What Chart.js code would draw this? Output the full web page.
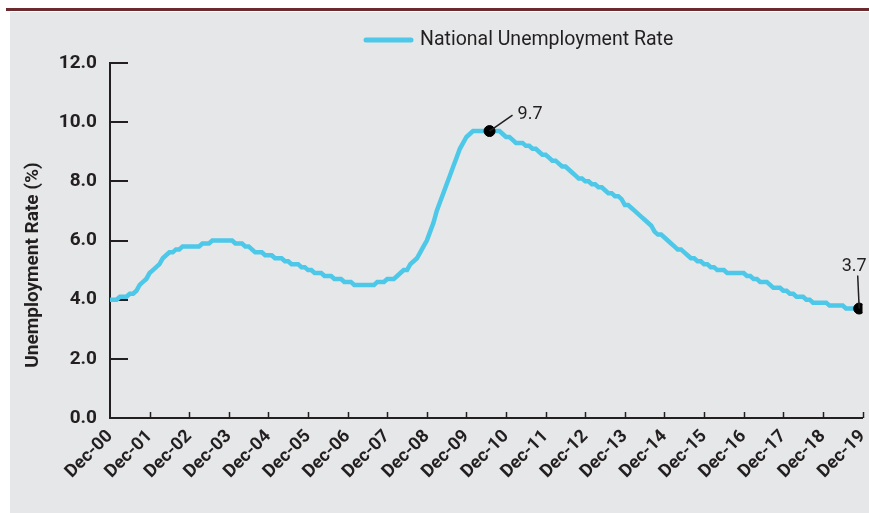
<!DOCTYPE html>
<html>
<head>
<meta charset="utf-8">
<script src="https://cdn.jsdelivr.net/npm/chart.js"></script>
<style>
  html, body { margin: 0; padding: 0; background: #fff; }
  canvas { display: block; }
</style>
</head>
<body>
<canvas id="myChart" width="869" height="513"></canvas>
<script>
// 12-month average unemployment rate, one value per month
var tickLabels = ['Dec-00', 'Dec-01', 'Dec-02', 'Dec-03', 'Dec-04', 'Dec-05', 'Dec-06', 'Dec-07', 'Dec-08', 'Dec-09',
	'Dec-10', 'Dec-11', 'Dec-12', 'Dec-13', 'Dec-14', 'Dec-15', 'Dec-16', 'Dec-17', 'Dec-18', 'Dec-19'];

var rates = [
	4.0, 4.0, 4.0, 4.1, 4.1, 4.1, 4.2, 4.2, 4.3, 4.5, 4.6, 4.7,   // 2001
	4.9, 5.0, 5.1, 5.2, 5.4, 5.5, 5.6, 5.6, 5.7, 5.7, 5.8, 5.8,   // 2002
	5.8, 5.8, 5.8, 5.8, 5.9, 5.9, 5.9, 6.0, 6.0, 6.0, 6.0, 6.0,   // 2003
	6.0, 6.0, 5.9, 5.9, 5.9, 5.8, 5.8, 5.7, 5.6, 5.6, 5.6, 5.5,   // 2004
	5.5, 5.5, 5.4, 5.4, 5.4, 5.3, 5.3, 5.2, 5.2, 5.2, 5.1, 5.1,   // 2005
	5.0, 5.0, 4.9, 4.9, 4.9, 4.8, 4.8, 4.8, 4.7, 4.7, 4.7, 4.6,   // 2006
	4.6, 4.6, 4.5, 4.5, 4.5, 4.5, 4.5, 4.5, 4.5, 4.6, 4.6, 4.6,   // 2007
	4.7, 4.7, 4.7, 4.8, 4.9, 5.0, 5.0, 5.2, 5.3, 5.4, 5.6, 5.8,   // 2008
	6.0, 6.3, 6.6, 7.0, 7.3, 7.6, 7.9, 8.2, 8.5, 8.8, 9.1, 9.3,   // 2009
	9.5, 9.6, 9.7, 9.7, 9.7, 9.7, 9.7, 9.7, 9.7, 9.7, 9.7, 9.6,   // 2010
	9.5, 9.5, 9.4, 9.3, 9.3, 9.3, 9.2, 9.2, 9.1, 9.1, 9.0, 8.9,   // 2011
	8.9, 8.8, 8.7, 8.7, 8.6, 8.5, 8.5, 8.4, 8.3, 8.2, 8.1, 8.1,   // 2012
	8.0, 8.0, 7.9, 7.9, 7.8, 7.8, 7.7, 7.6, 7.6, 7.5, 7.5, 7.4,   // 2013
	7.2, 7.2, 7.1, 7.0, 6.9, 6.8, 6.7, 6.6, 6.5, 6.3, 6.2, 6.2,   // 2014
	6.1, 6.0, 5.9, 5.8, 5.7, 5.7, 5.6, 5.5, 5.4, 5.4, 5.3, 5.3,   // 2015
	5.2, 5.2, 5.1, 5.1, 5.0, 5.0, 5.0, 4.9, 4.9, 4.9, 4.9, 4.9,   // 2016
	4.9, 4.8, 4.8, 4.7, 4.7, 4.6, 4.6, 4.6, 4.5, 4.4, 4.4, 4.4,   // 2017
	4.3, 4.3, 4.2, 4.2, 4.1, 4.1, 4.1, 4.0, 4.0, 3.9, 3.9, 3.9,   // 2018
	3.9, 3.9, 3.8, 3.8, 3.8, 3.8, 3.8, 3.7, 3.7, 3.7, 3.7, 3.7];  // 2019

// points that get a black dot and a value label
var calloutMonths = [115, 227];
var calloutTexts = ['9.7', '3.7'];

var yTicks = [0, 2, 4, 6, 8, 10, 12];
var monthsPerTick = 12;

var seriesName = 'National Unemployment Rate';
var yTitle = 'Unemployment Rate (%)';

var lineColor = '#4EC8E9';
var ink = '#231F20';
var fontName = 'Roboto';

var points = rates.map(function(v, i) { return { x: i, y: v }; });
var dots = calloutMonths.map(function(m) { return { x: m, y: rates[m] }; });

// grey panel, dark red rule above it
var panelPlugin = {
	id: 'panel',
	beforeDraw: function(chart) {
		var c = chart.ctx;
		c.save();
		c.fillStyle = '#ffffff';
		c.fillRect(0, 0, chart.width, chart.height);
		c.fillStyle = '#E6E7E8';
		c.fillRect(10, 12, chart.width - 10, chart.height - 12);
		c.fillStyle = '#6B2A2E';
		c.fillRect(6, 8, chart.width - 6, 3);
		c.restore();
	}
};

// tick marks point inward, into the plot
var innerTicks = {
	id: 'innerTicks',
	beforeDatasetsDraw: function(chart) {
		var c = chart.ctx, area = chart.chartArea;
		var xs = chart.scales.x, ys = chart.scales.y;
		c.save();
		c.strokeStyle = ink;
		c.lineWidth = 2;
		c.beginPath();
		ys.ticks.forEach(function(t) {
			if (t.value === 0) return;
			var py = Math.round(ys.getPixelForValue(t.value));
			c.moveTo(area.left, py);
			c.lineTo(area.left + 18, py);
		});
		c.stroke();
		c.lineWidth = 1.5;
		c.beginPath();
		xs.ticks.forEach(function(t) {
			if (t.value === 0) return;
			var px = Math.round(xs.getPixelForValue(t.value)) + 0.5;
			c.moveTo(px, area.bottom);
			c.lineTo(px, area.bottom - 6);
		});
		c.stroke();
		c.restore();
	}
};

// value labels with leader lines, legend and y title
var extras = {
	id: 'extras',
	afterDraw: function(chart) {
		var c = chart.ctx;
		var xs = chart.scales.x, ys = chart.scales.y;
		c.save();
		c.strokeStyle = ink;
		c.fillStyle = ink;
		c.lineWidth = 1.5;
		c.font = '18px ' + fontName;
		c.textBaseline = 'alphabetic';

		// peak: leader goes up and right
		var px = xs.getPixelForValue(calloutMonths[0]);
		var py = ys.getPixelForValue(rates[calloutMonths[0]]);
		c.beginPath();
		c.moveTo(px, py);
		c.lineTo(px + 23, py - 16);
		c.stroke();
		c.textAlign = 'left';
		c.fillText(calloutTexts[0], px + 28, py - 12);

		// last value: leader goes nearly straight up
		px = xs.getPixelForValue(calloutMonths[1]);
		py = ys.getPixelForValue(rates[calloutMonths[1]]);
		c.beginPath();
		c.moveTo(px, py);
		c.lineTo(px - 1.5, py - 33);
		c.stroke();
		c.textAlign = 'center';
		c.fillText(calloutTexts[1], px - 5, py - 38);

		// legend
		c.strokeStyle = lineColor;
		c.lineWidth = 5;
		c.lineCap = 'round';
		c.beginPath();
		c.moveTo(366, 40);
		c.lineTo(411, 40);
		c.stroke();
		c.textAlign = 'left';
		c.textBaseline = 'middle';
		c.font = '19.5px ' + fontName;
		c.fillText(seriesName, 420, 40);

		// y axis title
		c.translate(33, 265);
		c.rotate(-Math.PI / 2);
		c.textAlign = 'center';
		c.font = 'bold 19px ' + fontName;
		c.fillText(yTitle, 0, 0);
		c.restore();
	}
};

var canvas = document.getElementById('myChart');

var chart = new Chart(canvas, {
	type: 'line',
	data: {
		datasets: [
			{
				label: seriesName,
				data: points,
				borderColor: lineColor,
				backgroundColor: lineColor,
				borderWidth: 4.5,
				pointRadius: 0,
				tension: 0,
				order: 2
			},
			{
				label: 'callouts',
				data: dots,
				showLine: false,
				pointRadius: 5.5,
				pointBackgroundColor: '#000',
				pointBorderColor: '#000',
				order: 1
			}
		]
	},
	options: {
		responsive: false,
		animation: false,
		layout: { padding: { left: 0, top: 63, right: 6, bottom: 0 } },
		plugins: {
			legend: { display: false },
			tooltip: { enabled: false }
		},
		scales: {
			x: {
				type: 'linear',
				min: 0,
				max: (tickLabels.length - 1) * monthsPerTick,
				grid: { display: false, drawTicks: false },
				border: { display: true, color: ink, width: 2 },
				ticks: {
					stepSize: monthsPerTick,
					autoSkip: false,
					minRotation: 45,
					maxRotation: 45,
					padding: 8,
					color: ink,
					font: { family: fontName, size: 18, weight: 'bold' },
					callback: function(v) { return tickLabels[v / monthsPerTick]; }
				},
				afterFit: function(s) {
					s.height = 95;
					s.paddingLeft = 0;
					s.paddingRight = 0;
				}
			},
			y: {
				min: yTicks[0],
				max: yTicks[yTicks.length - 1],
				grid: { display: false, drawTicks: false },
				border: { display: true, color: ink, width: 2 },
				ticks: {
					stepSize: 2,
					padding: 13,
					color: ink,
					font: { family: fontName, size: 19, weight: 'bold' },
					callback: function(v) { return v.toFixed(1); }
				},
				afterFit: function(s) {
					s.width = 110;
					s.paddingTop = 0;
					s.paddingBottom = 0;
				}
			}
		}
	},
	plugins: [panelPlugin, innerTicks, extras]
});
</script>
</body>
</html>
